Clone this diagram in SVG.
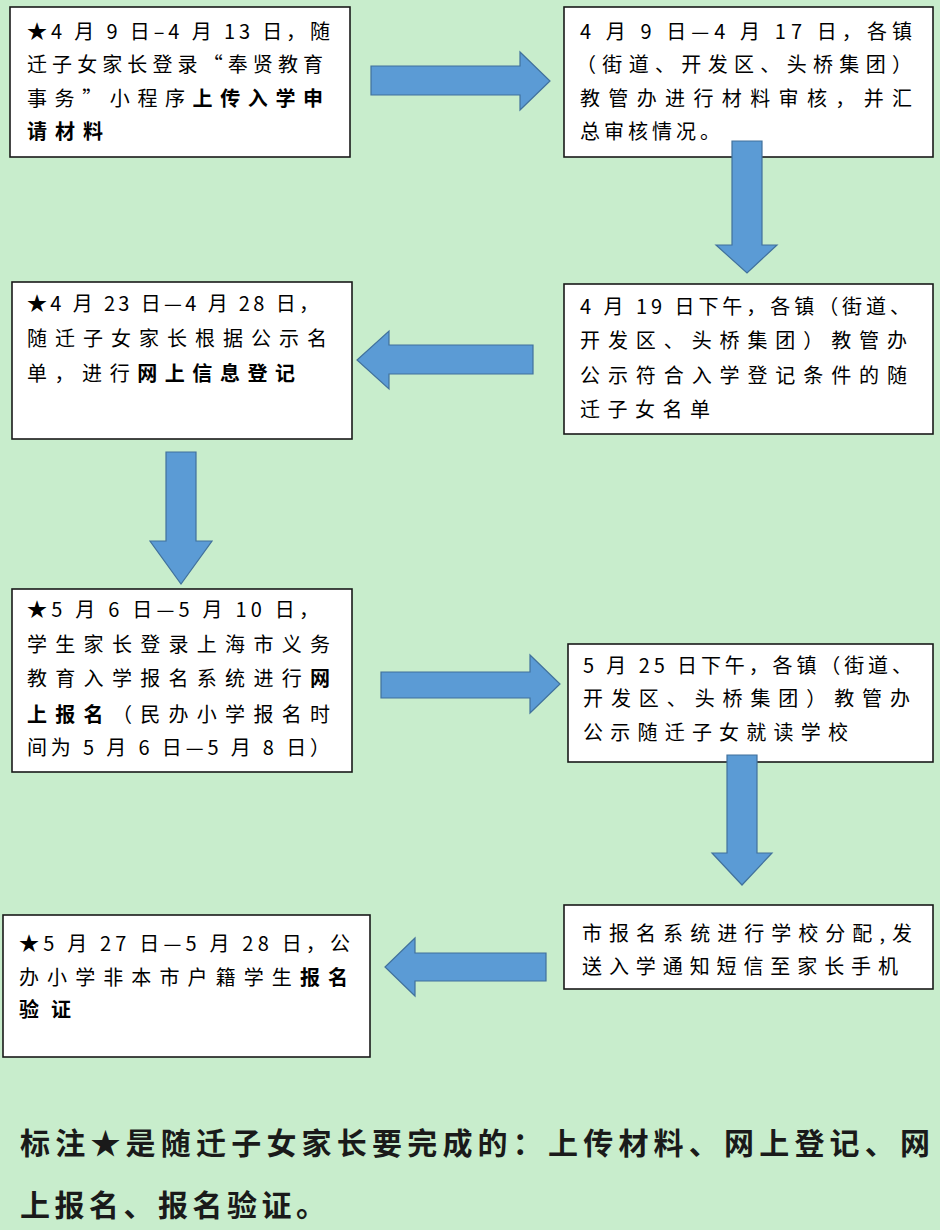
<svg xmlns="http://www.w3.org/2000/svg" width="940" height="1230" viewBox="0 0 940 1230">
<style>
.box{fill:#ffffff;stroke:#1a1a1a;stroke-width:1.6}
.arrow{fill:#5b9bd5;stroke:#41719c;stroke-width:1.2}
.t{font-family:"Noto Sans CJK SC","Noto Sans",sans-serif;font-size:20px;fill:#000}
.b{font-weight:700}
.foot{font-family:"Noto Sans CJK SC","Noto Sans",sans-serif;font-size:30px;font-weight:700;fill:#1a1a1a}
</style>
<rect x="0" y="0" width="940" height="1230" fill="#c8edcc"/>
<g id="node1">
<rect class="box" x="10" y="7" width="340" height="150"/>
<text class="t" x="27" y="39" textLength="303" lengthAdjust="spacing">★4 月 9 日–4 月 13 日，随</text>
<text class="t" x="27" y="72" textLength="296" lengthAdjust="spacing">迁子女家长登录“奉贤教育</text>
<text class="t" x="27" y="106" textLength="296" lengthAdjust="spacing">事务”小程序<tspan class="b">上传入学申</tspan></text>
<text class="t b" x="27" y="139" textLength="76" lengthAdjust="spacing">请材料</text>
</g>
<g id="node2">
<rect class="box" x="564" y="7" width="369" height="150"/>
<text class="t" x="580" y="39" textLength="332" lengthAdjust="spacing">4 月 9 日—4 月 17 日，各镇</text>
<text class="t" x="576" y="72" textLength="336" lengthAdjust="spacing">（街道、开发区、头桥集团）</text>
<text class="t" x="580" y="106" textLength="332" lengthAdjust="spacing">教管办进行材料审核，并汇</text>
<text class="t" x="580" y="139" textLength="140" lengthAdjust="spacing">总审核情况。</text>
</g>
<g id="node3">
<rect class="box" x="12" y="282" width="340" height="157"/>
<text class="t" x="27" y="311" textLength="292" lengthAdjust="spacing">★4 月 23 日—4 月 28 日，</text>
<text class="t" x="27" y="346" textLength="300" lengthAdjust="spacing">随迁子女家长根据公示名</text>
<text class="t" x="27" y="381" textLength="268" lengthAdjust="spacing">单，进行<tspan class="b">网上信息登记</tspan></text>
</g>
<g id="node4">
<rect class="box" x="564" y="284" width="369" height="150"/>
<text class="t" x="580" y="314" textLength="330" lengthAdjust="spacing">4 月 19 日下午，各镇（街道、</text>
<text class="t" x="580" y="348" textLength="327" lengthAdjust="spacing">开发区、头桥集团）教管办</text>
<text class="t" x="580" y="383" textLength="327" lengthAdjust="spacing">公示符合入学登记条件的随</text>
<text class="t" x="580" y="417" textLength="130" lengthAdjust="spacing">迁子女名单</text>
</g>
<g id="node5">
<rect class="box" x="12" y="589" width="340" height="183"/>
<text class="t" x="27" y="617" textLength="292" lengthAdjust="spacing">★5 月 6 日—5 月 10 日，</text>
<text class="t" x="27" y="652" textLength="303" lengthAdjust="spacing">学生家长登录上海市义务</text>
<text class="t" x="27" y="686" textLength="303" lengthAdjust="spacing">教育入学报名系统进行<tspan class="b">网</tspan></text>
<text class="t" x="27" y="722" textLength="303" lengthAdjust="spacing"><tspan class="b">上报名</tspan>（民办小学报名时</text>
<text class="t" x="27" y="755" textLength="303" lengthAdjust="spacing">间为 5 月 6 日—5 月 8 日）</text>
</g>
<g id="node6">
<rect class="box" x="568" y="644" width="365" height="118"/>
<text class="t" x="583" y="673" textLength="329" lengthAdjust="spacing">5 月 25 日下午，各镇（街道、</text>
<text class="t" x="583" y="706" textLength="327" lengthAdjust="spacing">开发区、头桥集团）教管办</text>
<text class="t" x="583" y="740" textLength="265" lengthAdjust="spacing">公示随迁子女就读学校</text>
</g>
<g id="node7">
<rect class="box" x="564" y="905" width="369" height="84"/>
<text class="t" x="582" y="941" textLength="330" lengthAdjust="spacing">市报名系统进行学校分配,发</text>
<text class="t" x="582" y="974" textLength="316" lengthAdjust="spacing">送入学通知短信至家长手机</text>
</g>
<g id="node8">
<rect class="box" x="3" y="915" width="367" height="142"/>
<text class="t" x="19" y="951" textLength="331" lengthAdjust="spacing">★5 月 27 日—5 月 28 日，公</text>
<text class="t" x="19" y="985" textLength="329" lengthAdjust="spacing">办小学非本市户籍学生<tspan class="b">报名</tspan></text>
<text class="t b" x="19" y="1017" textLength="52" lengthAdjust="spacing">验证</text>
</g>
<g id="connectors">
<polygon class="arrow" points="371,66 520,66 520,52 550,81 520,110 520,95 371,95"/>
<polygon class="arrow" points="732,141 762,141 762,245 777,245 747,273 716,245 732,245"/>
<polygon class="arrow" points="533,345 389,345 389,331 357,360 389,389 389,374 533,374"/>
<polygon class="arrow" points="166,452 196,452 196,541 212,541 181,584 150,541 166,541"/>
<polygon class="arrow" points="381,672 530,672 530,655 560,684 530,713 530,698 381,698"/>
<polygon class="arrow" points="727,755 757,755 757,853 772,853 742,885 712,853 727,853"/>
<polygon class="arrow" points="546,953 415,953 415,938 385,967 415,996 415,981 546,981"/>
</g>
<g id="note">
<text class="foot" x="20" y="1154" textLength="910" lengthAdjust="spacing">标注★是随迁子女家长要完成的：上传材料、网上登记、网</text>
<text class="foot" x="20" y="1216" textLength="306" lengthAdjust="spacing">上报名、报名验证。</text>
</g>
</svg>
